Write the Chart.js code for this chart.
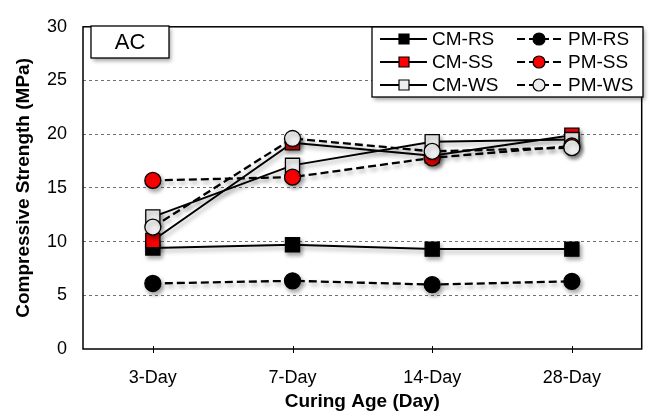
<!DOCTYPE html>
<html>
<head>
<meta charset="utf-8">
<script src="https://cdn.jsdelivr.net/npm/chart.js@4.4.1/dist/chart.umd.min.js"></script>
<style>
  body { margin: 0; background: #fff; }
  #wrap { width: 653px; height: 414px; }
</style>
</head>
<body>
<div id="wrap"><canvas id="strengthChart"></canvas></div>
<script>
// Chart data
const categories = ['3-Day', '7-Day', '14-Day', '28-Day'];
const cmRS = [9.4, 9.7, 9.3, 9.3];
const cmSS = [10.1, 19.2, 18.0, 19.9];
const cmWS = [12.3, 17.1, 19.3, 19.5];
const pmRS = [6.1, 6.35, 6.0, 6.3];
const pmSS = [15.7, 16.0, 17.8, 18.9];
const pmWS = [11.35, 19.6, 18.4, 18.75];
const yTicks = [0, 5, 10, 15, 20, 25, 30];

const FONT = 'Arial, "Liberation Sans", sans-serif';
const RED = '#ff0000';
const GRAY = '#eeeeee';
const DASH = [8, 4];

function series(label, data, fill, dashed, style) {
  return {
    label: label,
    data: data,
    borderColor: '#000',
    borderWidth: dashed ? 2.3 : 2,
    borderDash: dashed ? DASH : [],
    backgroundColor: fill,
    pointStyle: style,
    pointRadius: style === 'rect' ? 10 : 8,
    pointHoverRadius: style === 'rect' ? 10 : 8,
    pointBackgroundColor: fill,
    pointBorderColor: '#000',
    pointBorderWidth: 1.3,
    tension: 0,
    fill: false
  };
}

const datasets = [
  series('CM-RS', cmRS, '#000', false, 'rect'),
  series('CM-SS', cmSS, RED, false, 'rect'),
  series('CM-WS', cmWS, GRAY, false, 'rect'),
  series('PM-RS', pmRS, '#000', true, 'circle'),
  series('PM-SS', pmSS, RED, true, 'circle'),
  series('PM-WS', pmWS, GRAY, true, 'circle')
];
// later series sit on top
datasets.forEach((ds, i) => { ds.order = datasets.length - i; });

function shadow(ctx, on) {
  ctx.shadowColor = on ? 'rgba(0,0,0,0.35)' : 'transparent';
  ctx.shadowBlur = on ? 4 : 0;
  ctx.shadowOffsetX = on ? 2 : 0;
  ctx.shadowOffsetY = on ? 3 : 0;
}

// frame, x tick marks and marker shadows
const framePlugin = {
  id: 'frame',
  beforeDatasetsDraw(chart) {
    const { ctx, chartArea: a, scales } = chart;
    ctx.save();
    ctx.strokeStyle = '#000';
    ctx.lineWidth = 1.5;
    ctx.strokeRect(a.left, a.top, a.right - a.left, a.bottom - a.top);
    ctx.lineWidth = 1;
    categories.forEach((c, i) => {
      const x = Math.round(scales.x.getPixelForValue(i)) + 0.5;
      ctx.beginPath();
      ctx.moveTo(x, a.bottom - 3);
      ctx.lineTo(x, a.bottom + 4);
      ctx.stroke();
    });
    ctx.restore();
    ctx.save();
    shadow(ctx, true);
  },
  afterDatasetsDraw(chart) {
    chart.ctx.restore();
  }
};

function drawMarker(ctx, style, x, y, fill, size) {
  ctx.fillStyle = fill;
  ctx.strokeStyle = '#000';
  ctx.lineWidth = 1.2;
  ctx.beginPath();
  if (style === 'rect') {
    ctx.rect(x - size / 2, y - size / 2, size, size);
  } else {
    ctx.arc(x, y, size / 2 + 1, 0, Math.PI * 2);
  }
  ctx.fill();
  ctx.stroke();
}

// "AC" label box and legend
const boxesPlugin = {
  id: 'boxes',
  afterDraw(chart) {
    const ctx = chart.ctx;
    ctx.save();
    // AC box
    shadow(ctx, true);
    ctx.fillStyle = '#fff';
    ctx.fillRect(91, 26, 78, 32);
    shadow(ctx, false);
    ctx.strokeStyle = '#000';
    ctx.lineWidth = 1.3;
    ctx.strokeRect(91, 26, 78, 32);
    ctx.fillStyle = '#000';
    ctx.font = '22px ' + FONT;
    ctx.textAlign = 'center';
    ctx.textBaseline = 'middle';
    ctx.fillText('AC', 130, 43);

    // legend box
    shadow(ctx, true);
    ctx.fillStyle = '#fff';
    ctx.fillRect(372, 27, 271, 70);
    shadow(ctx, false);
    ctx.strokeRect(372, 27, 271, 70);

    const rowY = [39, 62, 85];
    const cols = [
      { x1: 380, x2: 427, mx: 404, tx: 432 },
      { x1: 517, x2: 563, mx: 539, tx: 568 }
    ];
    ctx.font = '19px ' + FONT;
    ctx.textAlign = 'left';
    chart.data.datasets.forEach((ds, i) => {
      const c = cols[i < 3 ? 0 : 1];
      const y = rowY[i % 3];
      ctx.strokeStyle = '#000';
      ctx.lineWidth = 2;
      ctx.setLineDash(ds.borderDash);
      ctx.beginPath();
      ctx.moveTo(c.x1, y);
      ctx.lineTo(c.x2, y);
      ctx.stroke();
      ctx.setLineDash([]);
      drawMarker(ctx, ds.pointStyle, c.mx, y, ds.pointBackgroundColor, 10);
      ctx.fillStyle = '#000';
      ctx.fillText(ds.label, c.tx, y + 1);
    });
    ctx.restore();
  }
};

new Chart(document.getElementById('strengthChart'), {
  type: 'line',
  data: { labels: categories, datasets: datasets },
  options: {
    responsive: true,
    maintainAspectRatio: false,
    animation: false,
    layout: { padding: { top: 17, right: 4, left: 0, bottom: 0 } },
    plugins: {
      legend: { display: false },
      tooltip: { enabled: false }
    },
    scales: {
      x: {
        offset: true,
        grid: { display: false },
        border: { display: false },
        ticks: { color: '#000', font: { family: FONT, size: 18 }, padding: 10, maxRotation: 0 },
        title: {
          display: true,
          text: 'Curing Age (Day)',
          color: '#000',
          font: { family: FONT, size: 19, weight: 'bold' },
          padding: { top: 0, bottom: 1 }
        },
        afterFit(scale) { scale.height = 65; }
      },
      y: {
        min: 0,
        max: 30,
        afterBuildTicks(scale) { scale.ticks = yTicks.map(v => ({ value: v })); },
        grid: {
          drawTicks: false,
          color: ctx => (ctx.tick && (ctx.tick.value === 0 || ctx.tick.value === 30)) ? 'transparent' : '#707070',
          lineWidth: 1
        },
        border: { display: false, dash: [3, 3] },
        ticks: { color: '#000', font: { family: FONT, size: 18 }, padding: 16 },
        title: {
          display: true,
          text: 'Compressive Strength (MPa)',
          color: '#000',
          font: { family: FONT, size: 19, weight: 'bold' },
          padding: { top: 12, bottom: 0 }
        },
        afterFit(scale) { scale.width = 83; }
      }
    }
  },
  plugins: [framePlugin, boxesPlugin]
});
</script>
</body>
</html>
